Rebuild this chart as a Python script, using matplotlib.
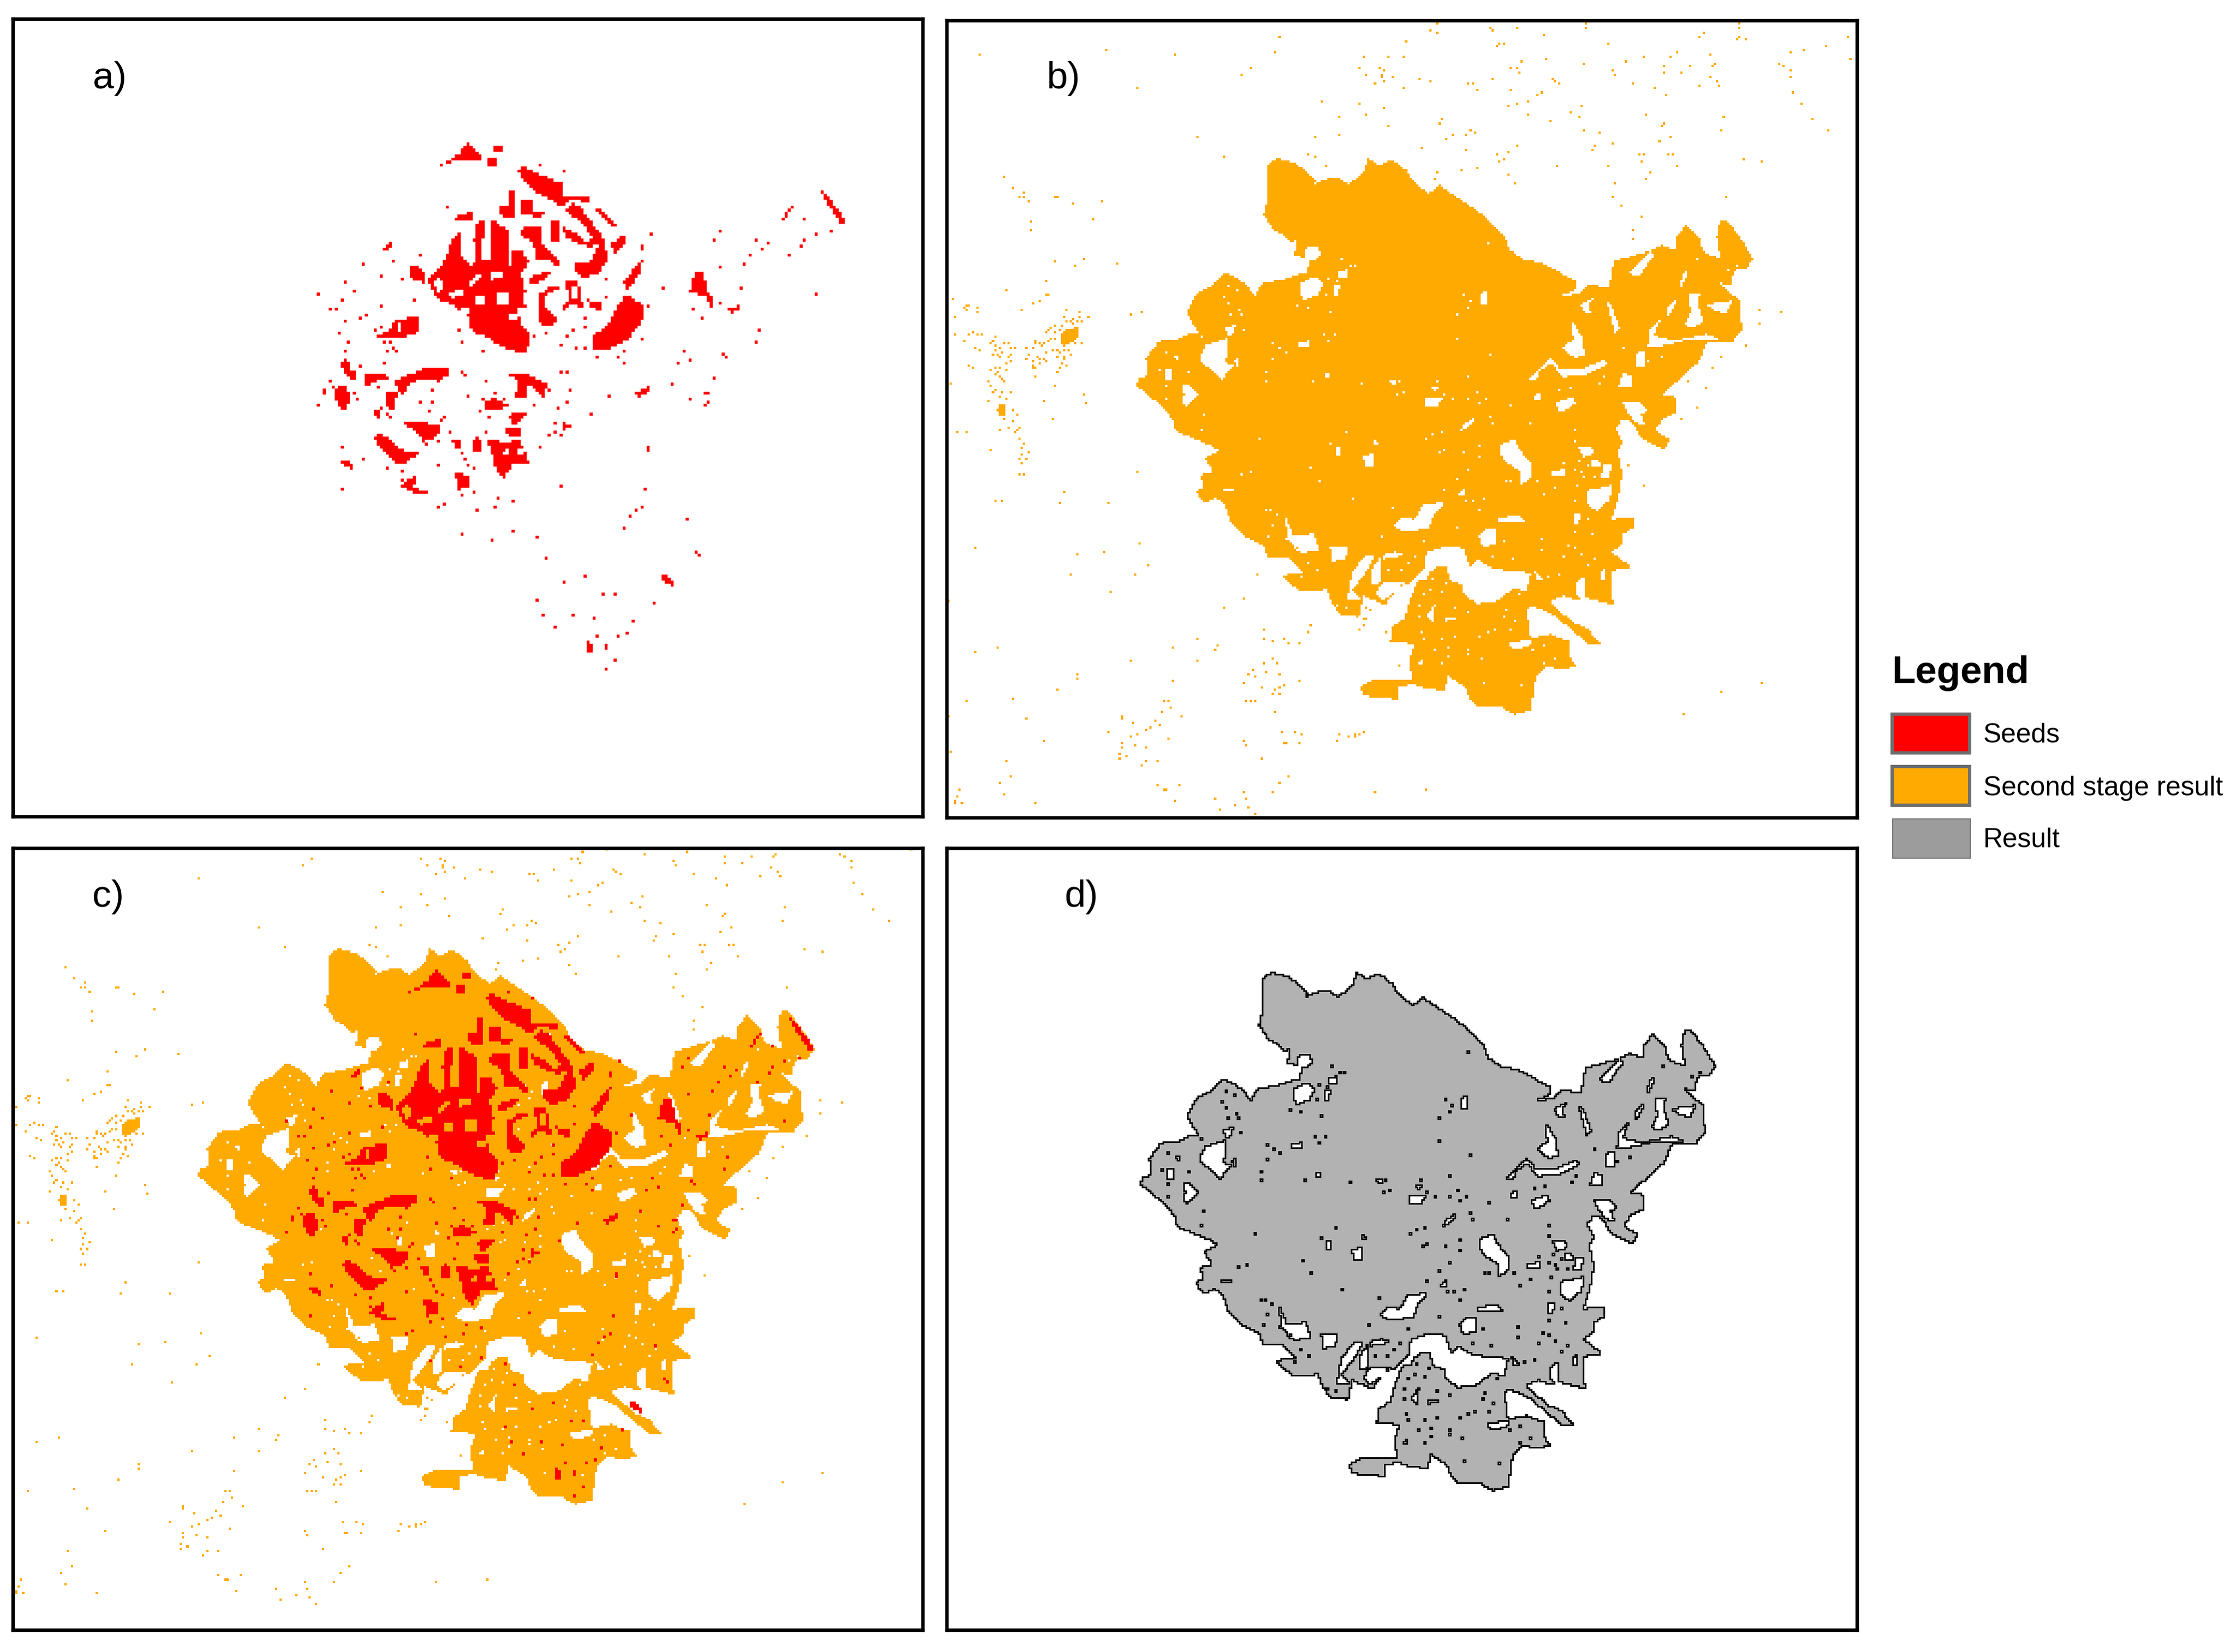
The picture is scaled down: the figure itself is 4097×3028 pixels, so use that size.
import numpy as np
import matplotlib
matplotlib.use("Agg")
import matplotlib.pyplot as plt
from matplotlib.path import Path
from matplotlib.patches import Rectangle
from matplotlib.collections import LineCollection

plt.rcParams['font.family'] = ['Liberation Sans', 'DejaVu Sans']

W, H = 4097, 3028
ORANGE = (1.0, 0.667, 0.0, 1.0)
RED = (1.0, 0.0, 0.0, 1.0)
GRAY_FILL = '#B2B2B2'

# ---- outline of the second stage result ----
OUTLINE = [(380,75),(400,57),(440,68),(470,90),(490,118),(483,133),(505,112),(545,110),(565,125),(600,95),(610,55),(635,75),(665,60),(700,90),(715,120),(750,148),(775,128),(805,150),(850,185),(885,215),(925,265),(935,295),(970,322),(1010,330),(1050,355),(1090,378),(1085,400),(1050,418),(1095,410),(1120,385),(1165,395),(1175,325),(1255,300),(1285,285),(1315,295),(1320,260),(1340,232),(1375,270),(1378,300),(1420,320),(1412,260),(1420,215),(1440,225),(1475,280),(1495,320),(1480,345),(1450,350),(1445,390),(1415,380),(1465,430),(1470,505),(1445,540),(1390,535),(1370,590),(1320,640),(1285,675),(1315,680),(1320,720),(1285,740),(1270,770),(1305,790),(1290,818),(1240,790),(1215,745),(1195,740),(1180,765),(1195,800),(1185,820),(1195,880),(1185,950),(1170,1000),(1222,995),(1222,1020),(1195,1040),(1195,1065),(1170,1085),(1215,1125),(1170,1135),(1172,1210),(1180,1225),(1110,1205),(1085,1210),(1060,1200),(1030,1215),(1080,1270),(1115,1285),(1145,1325),(1115,1325),(1075,1285),(1030,1245),(985,1225),(975,1240),(985,1310),(1030,1300),(1072,1318),(1075,1360),(1088,1385),(1060,1390),(1020,1385),(995,1415),(985,1500),(945,1510),(915,1490),(865,1490),(845,1470),(835,1440),(795,1410),(785,1448),(735,1440),(710,1430),(680,1440),(680,1475),(655,1465),(600,1462),(592,1437),(625,1420),(710,1420),(705,1365),(715,1330),(690,1320),(662,1318),(665,1280),(695,1260),(705,1215),(725,1160),(770,1125),(790,1125),(800,1160),(825,1170),(830,1195),(860,1220),(905,1215),(945,1180),(975,1190),(985,1140),(950,1135),(900,1130),(860,1105),(845,1125),(830,1075),(790,1070),(745,1085),(740,1130),(700,1170),(680,1175),(650,1225),(600,1200),(590,1255),(550,1250),(530,1225),(515,1180),(490,1190),(460,1190),(425,1165),(412,1145),(460,1140),(425,1100),(380,1100),(370,1070),(330,1045),(295,1010),(280,960),(260,945),(235,960),(215,930),(232,915),(225,885),(255,875),(235,840),(270,820),(245,805),(210,790),(170,770),(155,730),(130,700),(100,670),(75,650),(85,632),(105,625),(100,580),(130,535),(170,532),(190,518),(225,515),(240,545),(210,495),(195,460),(215,410),(250,390),(285,355),(330,385),(350,420),(365,385),(410,375),(470,355),(480,320),(440,310),(425,265),(395,245),(370,205),(380,160)]

# ---- larger gaps inside the area ----
HOLES = [
 [(435,365),(470,350),(490,365),(475,395),(440,410)],
 [(450,275),(478,270),(482,295),(462,310),(445,295)],
 [(215,525),(265,505),(262,570),(280,575),(252,612),(225,585),(200,560)],
 [(430,518),(455,512),(458,528),(435,530)],
 [(158,622),(175,622),(197,648),(170,680),(158,670),(165,650)],
 [(118,582),(135,582),(135,615),(120,615)],
 [(900,775),(935,765),(950,795),(975,830),(975,860),(950,880),(945,845),(905,815)],
 [(1100,895),(1162,880),(1155,920),(1125,945),(1105,930)],
 [(1082,785),(1115,780),(1118,800),(1095,810)],
 [(965,612),(990,585),(1020,555),(1040,585),(1090,585),(1145,560),(1148,575),(1100,600),(1045,605),(1020,570),(990,590),(985,612)],
 [(1067,460),(1090,500),(1098,550),(1072,555),(1045,530),(1070,510)],
 [(1032,670),(1070,655),(1075,672),(1050,690),(1035,690)],
 [(1340,395),(1365,390),(1360,420),(1375,465),(1345,480),(1330,470),(1345,440)],
 [(1200,340),(1250,285),(1258,295),(1222,350)],
 [(1317,375),(1330,332),(1338,335),(1325,375)],
 [(1147,405),(1158,420),(1180,480),(1168,495),(1158,450)],
 [(1088,420),(1128,398),(1108,420),(1112,442),(1097,442)],
 [(1245,525),(1250,485),(1275,455),(1258,500),(1310,512),(1380,495),(1420,512),(1340,510),(1280,525)],
 [(1215,545),(1240,535),(1240,575),(1218,578)],
 [(1175,630),(1190,590),(1205,605),(1205,630)],
 [(1185,670),(1225,668),(1245,690),(1228,698),(1238,728),(1212,720)],
 [(1290,425),(1310,405),(1305,430),(1290,450)],
 [(1380,420),(1440,410),(1425,445),(1400,435)],
 [(650,985),(670,965),(690,960),(700,970),(720,930),(770,925),(745,960),(735,990),(680,1000)],
 [(800,905),(820,885),(820,905)],
 [(815,725),(845,705),(830,730),(815,740)],
 [(725,655),(765,660),(755,678),(725,678)],
 [(740,628),(755,628),(752,642)],
 [(1020,845),(1050,840),(1050,855),(1020,855)],
 [(1115,815),(1130,815),(1135,835),(1115,835)],
 [(1140,830),(1160,825),(1155,860),(1135,860)],
 [(580,805),(605,800),(605,830),(590,838)],
 [(520,780),(530,780),(528,805),(520,805)],
 [(605,765),(617,770),(612,785)],
 [(640,610),(660,610),(655,628)],
 [(490,600),(505,595),(500,610)],
 [(255,888),(280,888),(280,898),(255,898)],
 [(1070,955),(1090,955),(1080,978),(1070,978)],
 [(895,965),(940,955),(960,975),(895,975)],
 [(850,1010),(870,990),(890,990),(890,1030),(860,1040)],
 [(415,1010),(465,1005),(480,1045),(435,1055)],
 [(400,960),(415,1000),(430,1050),(405,1015)],
 [(505,1040),(545,1035),(540,1070),(510,1075)],
 [(545,1170),(555,1100),(590,1060),(610,1060),(590,1100),(555,1150),(575,1170),(540,1175)],
 [(625,1060),(655,1050),(680,1060),(625,1070)],
 [(600,1100),(622,1060),(622,1130),(600,1135)],
 [(625,1130),(680,1128),(655,1150),(630,1175),(610,1160)],
 [(1075,1130),(1095,1110),(1097,1165),(1080,1165)],
 [(980,1100),(1000,1120),(985,1125)],
 [(715,1120),(735,1100),(730,1125)],
 [(770,1215),(800,1220),(770,1230)],
 [(915,1285),(975,1272),(970,1290),(935,1300)],
 [(405,265),(425,255),(425,285),(405,285)],
 [(1135,1100),(1145,1095),(1145,1120),(1135,1120)],
 [(730,1215),(750,1180),(745,1230)],
 [(710,1330),(725,1325),(715,1340)],
 [(525,338),(545,330),(545,350),(525,355)],
 [(515,370),(527,370),(525,400),(515,400)],
 [(980,650),(993,645),(993,665),(980,665)],
 [(260,478),(285,470),(280,495),(265,500)],
 [(140,550),(150,550),(150,565)],
 [(285,555),(290,555),(290,580),(285,580)],
 [(855,390),(868,385),(868,420),(855,420)],
]

# ---- one-cell gaps ----
SMALL_HOLES = [(874,265),(530,304),(560,318),(552,322),(530,340),(500,355),(520,360),(495,395),(453,427),(430,420),(508,437),(268,370),(290,385),(258,398),(270,415),(295,433),(275,447),(300,445),(305,483),(488,494),(518,497),(498,512),(372,518),(385,530),(403,542),(372,558),(285,565),(262,568),(356,592),(356,617),(463,617),(500,598),(580,622),(668,617),(662,648),(677,646),(125,540),(108,585),(174,590),(125,628),(122,660),(210,700),(140,718),(205,740),(338,764),(505,772),(540,745),(526,790),(610,775),(460,836),(300,852),(320,845),(482,872),(556,918),(650,937),(358,946),(367,945),(383,955),(372,985),(362,1012),(400,1020),(722,1025),(627,1014),(700,1062),(685,1080),(670,1095),(638,1095),(753,617),(745,634),(772,648),(788,660),(824,660),(845,645),(868,660),(853,673),(824,606),(798,506),(880,550),(798,444),(814,393),(832,412),(824,426),(925,678),(970,725),(880,706),(885,722),(810,740),(743,750),(730,762),(762,745),(768,788),(758,798),(850,778),(817,795),(853,810),(826,843),(800,862),(772,892),(820,920),(836,920),(860,918),(850,945),(798,987),(924,872),(915,872),(985,870),(1000,906),(1030,888),(1072,922),(1082,880),(1090,848),(1075,840),(1095,860),(1120,856),(1077,740),(1075,768),(1085,820),(1105,828),(1047,825),(1190,528),(1275,555),(1245,563),(1133,622),(1140,606),(1040,640),(1062,630),(1105,967),(996,1015),(996,1045),(1057,1032),(1075,1040),(1088,1055),(1050,1065),(1118,1008),(910,1025),(930,1067),(882,1062),(1037,1108),(1015,1112),(1107,1085),(1122,1070),(908,1215),(915,1197),(937,1225),(945,1158),(925,1250),(873,1255),(887,1250),(850,1268),(828,1300),(825,1310),(858,1322),(782,1295),(765,1275),(750,1298),(782,1318),(762,1333),(795,1267),(720,1255),(725,1275),(710,1218),(712,1185),(722,1158),(740,1148),(765,1155),(775,1130),(745,1120),(795,1193),(825,1205),(863,1388),(950,1392),(1000,1290),(975,1300),(1030,1325),(1098,1240),(1357,304),(1432,334),(1450,318),(540,1192),(520,1190),(452,1082),(475,1095),(438,1115),(1000,1335),(1075,1000)]

# ---- scattered second-stage cells ----
SPECKLE_TOP = [(56,186),(275,161),(392,186),(565,173),(573,91),(524,259),(508,296),(327,378),(433,645),(478,751),(98,861),(633,645),(678,632),(645,451),(709,464),(754,488),(678,536),(723,525),(761,583),(851,546),(848,571),(818,705),(893,718),(858,657),(873,632),(893,625),(903,607),(911,620),(621,739),(636,751),(655,800),(845,18),(833,55),(843,67),(938,42),(942,55),(982,42),(1027,79),(1100,18),(1100,42),(1138,128),(791,116),(953,128),(961,128),(946,139),(719,198),(761,198),(787,198),(991,222),(1032,210),(1096,235),(709,259),(746,259),(754,271),(723,296),(750,296),(750,308),(769,308),(754,333),(739,343),(814,320),(833,333),(787,378),(899,354),(907,343),(915,391),(942,320),(971,259),(982,259),(987,284),(971,391),(1042,320),(1047,333),(1055,354),(1023,403),(1018,415),(1002,452),(982,464),(967,476),(1092,476),(1074,512),(1089,536),(1002,525),(1040,558),(1096,607),(1122,620),(1145,272),(1149,296),(1168,222),(1183,354),(1220,378),(1240,415),(1202,198),(1247,198),(1259,173),(1315,186),(1235,247),(1280,247),(1235,284),(1266,284),(1319,247),(1323,235),(1315,308),(1326,333),(1296,366),(1330,366),(1296,91),(1304,67),(1364,18),(1364,42),(1364,91),(1360,103),(1375,103),(1453,173),(1477,161),(1514,139),(1553,91),(1557,210),(1432,235),(1440,247),(1451,272),(1451,308),(1456,403),(1473,464),(1493,546),(1518,607),(1337,536),(1333,607),(1206,525),(1236,571),(1232,583),(1247,645),(1229,669),(1145,681),(1115,693),(1111,718),(983,693),(967,729),(946,739),(961,763),(953,776),(1051,800),(1138,800),(1193,739),(1201,739),(1244,739),(1250,739),(1195,776),(1259,800),(1213,837),(1205,873),(1372,763),(1405,776),(843,837),(885,825),(915,812),(966,849),(979,896),(1152,896),(840,873)]

SPECKLE_LEFT = [(314,53),(360,98),(421,116),(396,134),(421,134),(445,152),(600,134),(612,134),(699,161),(855,152),(457,234),(805,225),(457,277),(600,403),(711,421),(757,395),(937,412),(541,485),(541,538),(564,538),(326,521),(36,555),(507,565),(470,578),(408,601),(97,592),(110,583),(122,583),(110,601),(167,592),(167,610),(48,629),(48,700),(122,700),(146,692),(167,700),(198,700),(97,727),(155,754),(179,763),(1010,620),(1071,610),(660,605),(640,625),(655,650),(675,647),(699,638),(723,643),(744,647),(733,610),(733,629),(781,629),(699,656),(710,670),(600,665),(630,665),(576,675),(552,690),(564,682),(600,695),(625,683),(565,720),(555,725),(600,720),(711,736),(744,736),(540,736),(490,740),(505,735),(482,727),(525,745),(470,758),(433,754),(372,754),(314,736),(339,736),(265,709),(253,727),(241,740),(270,745),(295,754),(265,763),(302,772),(253,781),(277,781),(290,790),(349,760),(349,781),(339,790),(349,810),(326,818),(583,763),(541,778),(530,800),(550,810),(505,805),(495,795),(515,820),(450,785),(433,805),(470,808),(475,830),(490,835),(470,840),(613,768),(625,772),(650,768),(665,763),(675,781),(613,790),(640,790),(650,805),(637,822),(662,826),(625,835),(613,853),(482,871),(122,826),(146,834),(265,834),(295,834),(327,843),(241,848),(277,853),(265,867),(290,871),(302,885),(310,895),(24,898),(228,895),(240,912),(600,907),(270,928),(252,938),(302,938),(349,935),(290,958),(326,967),(228,971),(757,948),(531,979),(769,987),(360,1014),(384,1032),(320,1050),(360,1060),(589,1051),(339,1087),(396,1087),(384,1096),(372,1105),(295,1096),(60,1105),(110,1105),(396,1131),(421,1150),(408,1167),(241,1176),(408,1190),(445,1185),(396,1208),(433,1213),(408,1231),(400,1278),(420,1275),(1047,1266),(650,1348),(265,1384),(302,1384),(625,1393),(891,1398),(1059,1554)]
CLUSTER_LEFT = [[(620,700),(650,682),(690,675),(725,672),(730,705),(690,735),(640,750),(620,730)],
                [(290,985),(320,985),(315,1000),(320,1030),(285,1035),(275,1014)]]

SPECKLE_BOTTOM = [(90,17),(419,53),(503,41),(643,114),(398,163),(601,163),(524,258),(992,163),(950,294),(886,344),(8,307),(1160,438),(1012,462),(1152,475),(1012,512),(1041,524),(1076,512),(1090,536),(1124,536),(803,512),(866,548),(859,571),(719,561),(161,561),(90,582),(587,631),(803,631),(1041,619),(1012,643),(1055,643),(978,680),(1019,692),(964,705),(1062,705),(986,717),(419,705),(419,729),(719,741),(950,753),(1124,741),(1076,763),(1062,775),(1005,775),(356,799),(1048,799),(1041,812),(1062,812),(209,836),(63,848),(705,848),(691,860),(957,848),(986,848),(971,860),(712,885),(684,909),(1048,921),(748,934),(8,945),(251,957),(558,945),(558,957),(594,979),(663,967),(677,992),(649,1004),(636,1016),(517,1028),(608,1040),(587,1052),(1069,1028),(1109,1028),(1131,1040),(1250,1040),(1285,1052),(1306,1040),(1306,1052),(1320,1040),(1334,1028),(705,1065),(308,1077),(950,1077),(1243,1077),(558,1089),(1076,1089),(1082,1089),(1124,1089),(601,1101),(957,1101),(558,1113),(636,1113),(13,1138),(551,1150),(551,1172),(576,1162),(1005,1172),(189,1184),(636,1184),(670,1184),(622,1208),(203,1270),(1090,1270),(168,1306),(1062,1306),(670,1319),(741,1319),(42,1343),(692,1343),(698,1343),(1530,1343),(945,1354),(1041,1354),(1369,1354),(35,1377),(182,1365),(859,1389),(957,1389),(727,1401),(28,1401),(28,1413),(49,1413),(280,1413),(922,1425),(964,1437),(873,1450),(986,1474),(1446,656),(1354,295),(1340,344),(1354,356),(1328,401),(1340,401),(1334,438),(1320,462),(1404,475)]

SPECKLE_RIGHT = [(1510,455),(1558,460),(1508,488),(1478,545),(1422,575),(1403,602),(1385,658),(1345,642),(1367,710),(1332,735),(1210,858),(1242,910),(1515,1427),(1422,1453),(1337,1512),(1472,60),(1517,65),(1432,155),(1240,212),(1220,245),(1220,270),(1180,122),(1175,155),(1195,180)]

# ---- seeds ----
SEED_BLOBS = [
 [(415,125),(465,90),(485,62),(505,80),(525,108),(470,110),(440,115)],
 [(548,65),(572,65),(572,85),(555,90)],
 [(538,100),(555,100),(555,130),(540,130)],
 [(605,135),(630,128),(670,150),(720,170),(725,210),(790,210),(790,225),(745,215),(720,235),(690,215),(650,190),(630,165)],
 [(745,225),(770,240),(810,300),(830,330),(835,385),(810,420),(775,430),(755,410),(790,390),(810,350),(770,340),(735,320),(720,290),(745,300),(780,330),(800,325),(770,280),(730,245)],
 [(590,190),(600,190),(600,265),(585,265)],
 [(565,230),(585,230),(585,265),(570,260)],
 [(615,215),(650,215),(645,240),(620,260)],
 [(385,440),(430,380),(445,330),(470,300),(470,370),(495,400),(505,290),(530,265),(520,380),(540,380),(545,270),(585,300),(590,360),(620,355),(640,385),(620,420),(635,490),(620,540),(640,580),(635,640),(580,625),(545,600),(495,575),(490,540),(465,520),(440,500),(410,490),(390,450)],
 [(620,295),(670,290),(670,340),(690,355),(715,380),(710,405),(695,385),(660,380),(650,340),(620,310)],
 [(695,275),(715,275),(715,330),(695,335)],
 [(640,430),(690,410),(695,420),(655,450),(645,450)],
 [(800,590),(835,560),(860,510),(880,475),(925,505),(925,545),(885,600),(835,630),(800,625)],
 [(660,480),(700,450),(720,455),(680,480),(675,510),(710,540),(700,565),(665,555)],
 [(730,435),(760,435),(775,510),(740,505),(725,525)],
 [(875,445),(915,385),(925,380),(915,420),(885,465)],
 [(840,340),(885,305),(880,335),(855,365)],
 [(1365,185),(1375,190),(1430,270),(1420,285),(1385,230)],
 [(1055,410),(1075,410),(1085,465),(1100,490),(1095,510),(1080,480),(1040,470)],
 [(1135,515),(1165,505),(1170,520),(1145,525)],
 [(275,345),(298,332),(290,355),(278,360)],
 [(300,550),(360,535),(365,580),(315,595),(255,590),(290,575)],
 [(165,665),(185,650),(190,680),(210,690),(200,710),(180,695)],
 [(225,690),(280,690),(290,705),(250,715),(240,730),(230,720)],
 [(300,715),(350,690),(385,675),(440,680),(435,700),(410,715),(380,705),(340,720),(325,750),(315,745)],
 [(160,725),(185,725),(190,770),(180,795),(170,790),(150,755)],
 [(280,745),(310,740),(300,790),(285,785)],
 [(245,800),(270,785),(265,820)],
 [(315,820),(370,825),(415,835),(420,850),(385,880),(355,850)],
 [(250,870),(265,855),(300,880),(330,910),(370,905),(335,935),(300,935),(275,905)],
 [(535,870),(575,880),(615,875),(640,935),(600,940),(575,980),(560,965)],
 [(590,695),(625,690),(685,720),(675,755),(650,730),(630,725),(630,760),(605,755),(610,715)],
 [(525,770),(550,760),(590,780),(560,795),(530,790)],
 [(590,805),(640,795),(610,830),(595,830)],
 [(445,870),(470,870),(470,895),(455,895)],
 [(495,880),(515,865),(525,905),(495,905)],
 [(580,840),(615,840),(615,865),(585,860)],
 [(330,990),(360,965),(350,1000),(390,1025),(350,1020),(320,1000)],
 [(455,965),(490,970),(490,1005),(460,1010)],
 [(905,745),(945,725),(935,745),(915,755)],
 [(965,1250),(980,1240),(1010,1280),(990,1270)],
 [(725,825),(745,835),(725,848)],
 [(1070,785),(1095,760),(1085,775),(1075,790)],
 [(1075,740),(1090,740),(1085,755)],
 [(165,930),(190,935),(205,960),(175,945)],
 [(785,1425),(800,1440),(795,1460),(780,1460)],
 [(825,1430),(840,1430),(838,1455),(825,1445)],
 [(815,1495),(838,1495),(830,1505)],
 [(925,900),(943,885),(940,905)],
 [(870,1115),(885,1115),(875,1125)],
 [(1270,275),(1285,240),(1305,230),(1285,260)],
 [(450,265),(495,248),(495,270),(460,278)],
 [(800,240),(820,245),(860,285),(845,290)],
 [(785,490),(825,500),(820,525),(790,505)],
 [(340,400),(360,395),(385,430),(360,440),(340,430)],
 [(620,240),(680,250),(670,270),(625,255)],
 [(755,385),(800,385),(800,420),(760,425)],
]
SEED_GAPS = [
 [(610,515),(650,515),(655,570),(620,565)],
 [(505,480),(530,480),(530,505),(505,505)],
 [(560,470),(585,470),(590,505),(560,505)],
 [(492,330),(505,330),(503,385),(494,385)],
 [(530,290),(540,290),(540,375),(530,375)],
 [(588,350),(598,350),(598,395),(590,395)],
 [(440,470),(480,462),(478,478),(445,486)],
 [(400,440),(418,430),(425,460),(410,470)],
 [(490,440),(515,415),(520,430),(495,455)],
 [(540,420),(570,410),(572,425),(545,435)],
 [(625,470),(640,470),(640,500),(625,500)],
 [(470,510),(490,510),(490,530),(470,530)],
 [(590,530),(610,530),(610,545),(590,545)],
 [(640,595),(660,565),(660,600),(645,610)],
 [(700,490),(735,465),(735,495),(712,525)],
 [(745,455),(760,455),(762,490),(748,490)],
 [(310,555),(322,550),(322,575),(310,575)],
 [(345,545),(350,545),(350,570),(345,570)],
 [(575,905),(590,900),(590,918),(575,918)],
 [(610,900),(625,900),(625,915),(610,915)],
 [(800,335),(812,345),(795,385),(785,380)],
]
SEED_CELLS = [(115,473),(145,520),(160,520),(165,580),(172,490),(183,545),(180,443),(205,465),(223,392),(218,540),(235,530),(272,508),(272,427),(300,383),(325,430),(352,490),(365,372),(365,410),(345,410),(360,425),(375,440),(437,237),(185,605),(183,632),(285,635),(305,630),(275,662),(115,778),(130,745),(145,715),(205,750),(210,760),(260,733),(400,738),(370,772),(395,772),(390,795),(490,755),(535,715),(475,685),(482,695),(720,685),(738,690),(745,742),(735,768),(715,788),(705,825),(655,780),(795,805),(840,757),(1000,720),(1040,763),(1100,705),(1030,630),(1015,663),(1045,652),(1123,643),(810,650),(865,645),(880,660),(877,628),(920,598),(720,612),(735,590),(750,575),(760,625),(780,620),(680,585),(655,590),(525,628),(475,605),(465,575),(1115,403),(1170,455),(1180,395),(1195,365),(1220,355),(1240,335),(1210,325),(1292,365),(1318,342),(1328,328),(1355,472),(1395,302),(1360,310),(1325,268),(1115,300),(1105,328),(945,315),(975,455),(920,340),(920,355),(935,505),(1218,575),(1205,605),(830,432),(780,540),(780,565),(830,480),(725,140),(665,125),(532,525),(440,850),(425,815),(530,850),(415,945),(665,898),(225,925),(285,952),(172,1012),(170,895),(505,1015),(470,1028),(410,1055),(430,1050),(510,1065),(555,1062),(565,1035),(598,1043),(720,997),(930,1008),(925,1055),(905,1070),(890,1085),(1032,1090),(470,1130),(547,1147),(600,1125),(663,1137),(680,1197),(781,1245),(727,1267),(825,1293),(857,1298),(950,1320),(663,1312),(677,1353),(750,1355),(805,1365),(900,1372),(702,1388),(812,1413),(865,1413),(882,1407),(855,1478),(1060,1180),(1068,1192),(690,860),(705,855),(720,860),(1130,645),(1050,518),(1075,540),(1120,497),(265,590),(275,605),(290,610),(300,625),(255,570),(270,565),(235,700),(215,672),(140,712),(150,730),(130,742),(155,760),(285,800),(290,815),(260,805),(375,880),(385,885),(415,875),(470,910),(480,925),(490,945),(500,950),(460,975),(470,1000),(320,960),(325,985),(420,820),(525,760),(515,795),(540,810),(555,750),(575,760),(620,700),(650,705),(690,735),(670,740),(600,850),(610,855),(380,1015),(345,1008)]

PANEL_LABELS = ['a)', 'b)', 'c)', 'd)']
LEGEND_TITLE = 'Legend'
LEGEND_LABELS = ['Seeds', 'Second stage result', 'Result']


# reading frames of the crops the values were taken from -> map units of panel b
def frame(pts, x0, y0, fx, fy):
    a = np.asarray(pts, float)
    return np.column_stack([x0 + a[:, 0] / fx, y0 + a[:, 1] / fy])

def from_b(p):    return frame(p, 2020, 250, 1.254, 1.425)
def from_top(p):  return frame(p, 1735, 37, 0.94, 3.0)
def from_left(p): return frame(p, 1735, 300, 3.0, 2.24)
def from_bot(p):  return frame(p, 1735, 1000, 1.742, 3.0)
def from_a(p):    return frame(p, 500 + 1663, 220 + 68, 1.3635, 1.493)
def from_d(p):
    a = frame(p, 2050, 1750, 1.3635, 1.493)
    return np.column_stack([(a[:, 0] - 148.5) / 0.932, (a[:, 1] - 1511) / 0.932])


class Grid:
    def __init__(self, cell):
        self.cell = cell
        self.x0, self.y0 = 1500.0, -150.0
        self.nx = int(2150 / cell)
        self.ny = int(1900 / cell)
        xc = self.x0 + (np.arange(self.nx) + .5) * cell
        yc = self.y0 + (np.arange(self.ny) + .5) * cell
        gx, gy = np.meshgrid(xc, yc)
        self.pts = np.column_stack([gx.ravel(), gy.ravel()])
        self.extent = (self.x0, self.x0 + self.nx * cell, self.y0 + self.ny * cell, self.y0)

    def poly(self, pts):
        return Path(pts).contains_points(self.pts).reshape(self.ny, self.nx)

    def cells(self, mask, pts, value=True):
        ix = ((pts[:, 0] - self.x0) / self.cell).astype(int)
        iy = ((pts[:, 1] - self.y0) / self.cell).astype(int)
        ok = (ix >= 0) & (ix < self.nx) & (iy >= 0) & (iy < self.ny)
        mask[iy[ok], ix[ok]] = value


def rgba(mask, colour):
    out = np.zeros(mask.shape + (4,))
    out[mask] = colour
    return out


g = Grid(4.07)
area = g.poly(from_b(OUTLINE))
for h in HOLES:
    area &= ~g.poly(from_d(h))
g.cells(area, from_d(SMALL_HOLES), False)

stage2 = area.copy()
g.cells(stage2, from_top(SPECKLE_TOP))
g.cells(stage2, from_left(SPECKLE_LEFT))
g.cells(stage2, from_bot(SPECKLE_BOTTOM))
g.cells(stage2, from_b(SPECKLE_RIGHT))
for c in CLUSTER_LEFT:
    stage2 |= g.poly(from_left(c))

gs = Grid(5.5)
seeds = np.zeros((gs.ny, gs.nx), bool)
for b in SEED_BLOBS:
    seeds |= gs.poly(from_a(b))
for b in SEED_GAPS:
    seeds &= ~gs.poly(from_a(b))
gs.cells(seeds, from_a(SEED_CELLS))

# outline of the raster area as cell edges
pad = np.pad(area, 1)
vy, vx = np.nonzero(pad[1:-1, 1:] != pad[1:-1, :-1])
hy, hx = np.nonzero(pad[1:, 1:-1] != pad[:-1, 1:-1])
c = g.cell
seg_v = [[(g.x0 + x * c, g.y0 + y * c), (g.x0 + x * c, g.y0 + (y + 1) * c)] for x, y in zip(vx, vy)]
seg_h = [[(g.x0 + x * c, g.y0 + y * c), (g.x0 + (x + 1) * c, g.y0 + y * c)] for x, y in zip(hx, hy)]

fig = plt.figure(figsize=(W / 100, H / 100), dpi=100, facecolor='white')

def add_panel(left, top, right, bottom, xlim, ylim):
    ax = fig.add_axes([left / W, 1 - bottom / H, (right - left) / W, (bottom - top) / H])
    ax.set_xticks([]); ax.set_yticks([])
    for s in ax.spines.values():
        s.set_linewidth(4.6)
        s.set_color('black')
    ax.set_facecolor('white')
    return ax, xlim, ylim

pa = add_panel(24, 35, 1691, 1497, (1686, 3354), (1564, 102))
pb = add_panel(1735, 38, 3403, 1499, (1735, 3403), (1499, 37))
pc = add_panel(24, 1555, 1691, 2988, (1744, 3412), (1540, 106))
pd = add_panel(1735, 1555, 3403, 2988, (1702, 3492), (1585, 46))

pa[0].imshow(rgba(seeds, RED), extent=gs.extent, aspect='auto', interpolation='nearest')
pb[0].imshow(rgba(stage2, ORANGE), extent=g.extent, aspect='auto', interpolation='nearest')
pc[0].imshow(rgba(stage2, ORANGE), extent=g.extent, aspect='auto', interpolation='nearest')
pc[0].imshow(rgba(seeds, RED), extent=gs.extent, aspect='auto', interpolation='nearest')
pd[0].imshow(rgba(area, matplotlib.colors.to_rgba(GRAY_FILL)), extent=g.extent, aspect='auto', interpolation='nearest')
pd[0].add_collection(LineCollection(seg_v + seg_h, colors='black', linewidths=2.0, capstyle='projecting'))
for ax, xl, yl in (pa, pb, pc, pd):
    ax.set_xlim(*xl)
    ax.set_ylim(*yl)

# overlay in figure pixels for panel letters and the legend
ov = fig.add_axes([0, 0, 1, 1], facecolor='none')
ov.set_xlim(0, W); ov.set_ylim(H, 0); ov.axis('off')
for lab, (x, y) in zip(PANEL_LABELS, [(170, 162), (1918, 162), (169, 1662), (1950, 1662)]):
    ov.text(x, y, lab, fontsize=50, va='baseline', ha='left', color='black')

ov.text(3466, 1252, LEGEND_TITLE, fontsize=51, fontweight='bold', va='baseline', ha='left')
boxes = [(3467, 1309, 142, 71, '#FF0000', '#6E6E6E', 6),
         (3467, 1405, 142, 71, '#FFAA00', '#6E6E6E', 6),
         (3468, 1501, 142, 72, '#9C9C9C', '#6E6E6E', 2)]
for (x, y, w, h, fc, ec, lw), lab, ty in zip(boxes, LEGEND_LABELS, [1348, 1445, 1540]):
    ov.add_patch(Rectangle((x, y), w, h, facecolor=fc, edgecolor=ec, linewidth=lw * 0.72))
    ov.text(3634, ty, lab, fontsize=35.7, va='center', ha='left', color='black')

fig.savefig('out.png', dpi=100, facecolor='white')
